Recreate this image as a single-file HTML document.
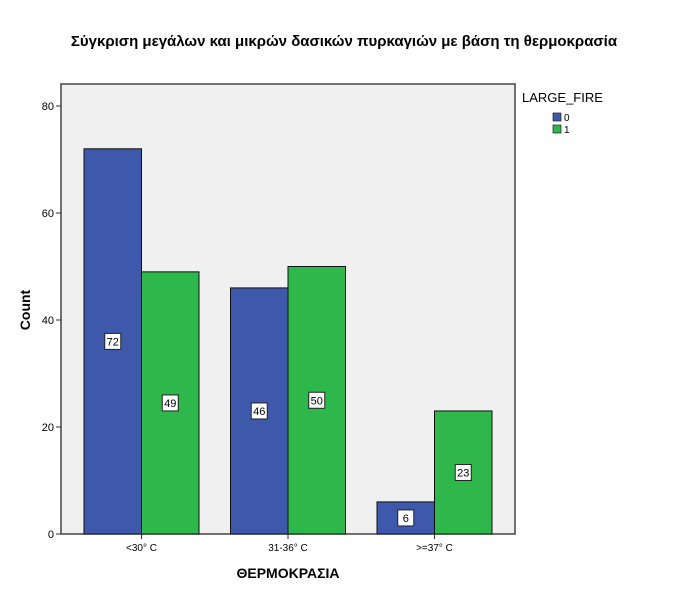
<!DOCTYPE html>
<html><head><meta charset="utf-8"><style>
body{margin:0;background:#fff;font-family:"Liberation Sans",sans-serif}
</style></head><body>
<svg width="689" height="596" xmlns="http://www.w3.org/2000/svg" font-family="Liberation Sans, sans-serif">
<text x="344" y="46" text-anchor="middle" font-size="15" font-weight="bold">Σύγκριση μεγάλων και μικρών δασικών πυρκαγιών με βάση τη θερμοκρασία</text>
<rect x="61" y="84" width="454" height="450" fill="#f0f0f0" stroke="#444" stroke-width="1.5"/>
<g id="bars"></g>
<g id="yaxis"></g>
<g id="xaxis"></g>
<text x="30" y="310" font-size="14" font-weight="bold" text-anchor="middle" transform="rotate(-90 30 310)">Count</text>
<text x="288" y="578" font-size="14" font-weight="bold" text-anchor="middle">ΘΕΡΜΟΚΡΑΣΙΑ</text>
<g>
<text x="522" y="102" font-size="13">LARGE_FIRE</text>
<rect x="553" y="113" width="8" height="8" fill="#3e58ac" stroke="#222" stroke-width="0.7"/>
<text x="564" y="121" font-size="10">0</text>
<rect x="553" y="125" width="8" height="8" fill="#2eb74b" stroke="#222" stroke-width="0.7"/>
<text x="564" y="133" font-size="10">1</text>
</g>
</svg>
<script>
const categories=["<30° C","31-36° C",">=37° C"];
const series0=[72,46,6];
const series1=[49,50,23];
const yTicks=[0,20,40,60,80];
const NS="http://www.w3.org/2000/svg";
const y0=534,pxPer=5.35;
const yScale=v=>y0-v*pxPer;
const xCenter=i=>141.5+i*146.5;
const bw=57.5;
function mk(t,a,p){const e=document.createElementNS(NS,t);for(const k in a)e.setAttribute(k,a[k]);p.appendChild(e);return e;}
const bars=document.getElementById('bars'),ya=document.getElementById('yaxis'),xa=document.getElementById('xaxis');
const cols=["#3e58ac","#2eb74b"];
[series0,series1].forEach((s,si)=>{
 s.forEach((v,i)=>{
  const x=xCenter(i)+(si?0:-bw),y=yScale(v);
  const r=mk('rect',{x:x,y:y,width:bw,height:y0-y,fill:cols[si],stroke:'#111','stroke-width':1},bars);
  
  
  const cy=(y+y0)/2,cx=x+bw/2;
  const lb=mk('rect',{x:cx-8,y:cy-8,width:16,height:16,fill:'#fff',stroke:'#222','stroke-width':1},bars);
  
  
  const t=mk('text',{x:cx,y:cy+4,'font-size':11,'text-anchor':'middle'},bars);
  
  
  t.textContent=v;
 });
});
yTicks.forEach(v=>{
 const y=yScale(v);
 const l=mk('line',{x1:56,x2:61,y1:y,y2:y,stroke:'#333'},ya);
 
 
 const t=mk('text',{x:54,y:y+4,'font-size':11,'text-anchor':'end'},ya);
 
 
 t.textContent=v;
});
categories.forEach((c,i)=>{
 const x=xCenter(i);
 const l=mk('line',{x1:x,x2:x,y1:534,y2:539,stroke:'#333'},xa);
 
 
 const t=mk('text',{x:x,y:551,'font-size':10,'text-anchor':'middle'},xa);
 
 
 t.textContent=c;
});
</script>
</body></html>
